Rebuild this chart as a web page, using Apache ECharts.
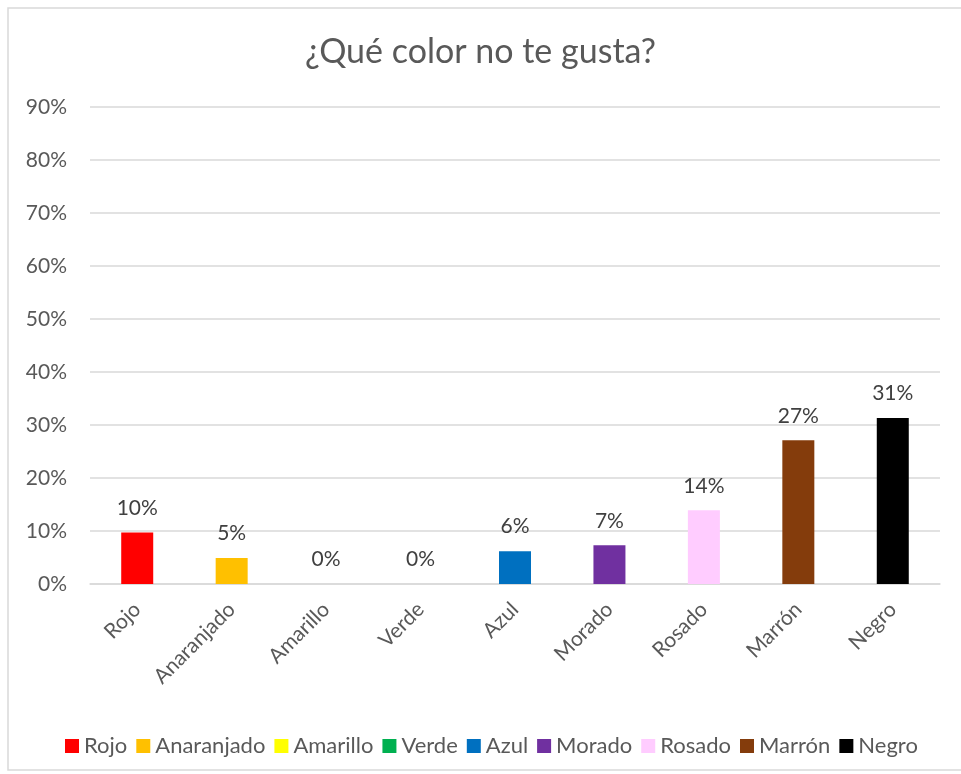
<!DOCTYPE html>
<html>
<head>
<meta charset="utf-8">
<script src="https://cdn.jsdelivr.net/npm/echarts@6/dist/echarts.min.js"></script>
<style>
html,body{margin:0;padding:0;background:#fff;}
#chart{width:961px;height:774px;}
</style>
</head>
<body>
<div id="chart"></div>
<script>
const titleText = '¿Qué color no te gusta?';
const categories = ['Rojo','Anaranjado','Amarillo','Verde','Azul','Morado','Rosado','Marrón','Negro'];
const values = [9.7, 4.9, 0, 0, 6.2, 7.3, 13.9, 27.1, 31.3];
const colors = ['#FF0000','#FFC000','#FFFF00','#00B050','#0070C0','#7030A0','#FFCCFF','#843C0C','#000000'];
const yTicks = {min: 0, max: 90, interval: 10};

const FONT = 'Lato';
const chart = echarts.init(document.getElementById('chart'), null, {renderer: 'canvas'});

const series = categories.map((name, i) => ({
  name: name,
  type: 'bar',
  stack: 'one',
  barWidth: 32,
  itemStyle: {color: colors[i]},
  data: categories.map((c, j) => j === i ? values[i] : '-'),
  label: {
    show: true,
    position: 'top',
    distance: 14,
    color: '#404040',
    fontFamily: FONT,
    fontSize: 21,
    formatter: p => Math.round(p.value) + '%'
  }
}));

chart.setOption({
  animation: false,
  backgroundColor: '#fff',
  title: {
    text: titleText,
    left: 'center',
    top: 30,
    textStyle: {fontFamily: FONT, fontSize: 34, fontWeight: 'normal', color: '#595959'}
  },
  legend: {
    data: categories,
    left: 60,
    top: 730,
    icon: 'rect',
    itemWidth: 14,
    itemHeight: 14,
    itemGap: 9,
    textStyle: {fontFamily: FONT, fontSize: 22, color: '#595959'}
  },
  grid: {left: 90, right: 21, top: 107, bottom: 190, containLabel: false},
  xAxis: {
    type: 'category',
    data: categories,
    axisTick: {show: false},
    axisLine: {lineStyle: {color: '#d9d9d9', width: 1.5}},
    axisLabel: {rotate: 45, margin: 22, fontFamily: FONT, fontSize: 21, color: '#595959', interval: 0}
  },
  yAxis: {
    type: 'value',
    min: yTicks.min,
    max: yTicks.max,
    interval: yTicks.interval,
    axisLine: {show: false},
    axisTick: {show: false},
    splitLine: {lineStyle: {color: '#d9d9d9', width: 1.5}},
    axisLabel: {margin: 23, fontFamily: FONT, fontSize: 21, color: '#595959', formatter: '{value}%'}
  },
  graphic: [{
    type: 'rect',
    shape: {x: 8, y: 8, width: 970, height: 762},
    style: {fill: 'none', stroke: '#d9d9d9', lineWidth: 1.5},
    silent: true,
    z: -1
  }],
  series: series
});
</script>
</body>
</html>
